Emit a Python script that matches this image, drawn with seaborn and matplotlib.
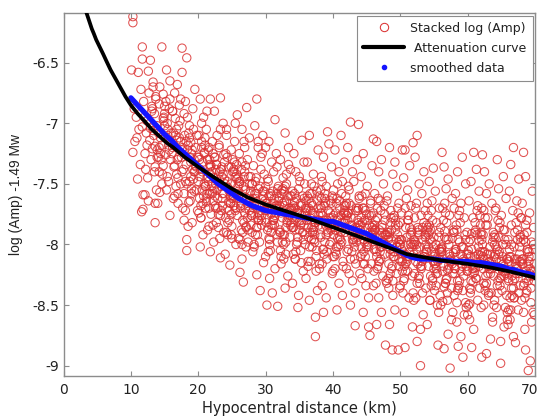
import numpy as np
import pandas as pd
import matplotlib
matplotlib.use("Agg")
import matplotlib.pyplot as plt
from matplotlib.lines import Line2D
from matplotlib.transforms import ScaledTranslation
import seaborn as sns

# ---------------- data ----------------
dist_km = [
    10.3,10.3,11.7,11.7,11.1,10.1,11.7,10.6,10.3,11.8,
    11.8,11.6,10.8,11.2,10.5,11.9,11.4,10.9,11.5,11.0,
    12.9,12.6,13.3,12.1,13.6,12.1,13.6,13.6,12.4,13.1,
    12.3,12.8,13.5,13.9,12.2,13.0,13.7,12.5,13.2,13.8,
    12.7,13.4,12.0,13.9,12.6,13.3,12.9,13.6,12.4,13.1,
    14.6,15.3,14.3,14.8,14.3,14.0,15.8,14.9,15.5,14.2,
    15.1,15.7,14.5,15.9,14.7,15.2,14.4,15.6,15.0,14.1,
    15.4,14.8,15.8,14.6,15.3,14.9,15.7,14.2,15.0,15.5,
    17.6,17.6,16.5,17.2,16.8,17.9,16.2,17.4,16.9,17.0,
    16.3,17.7,16.6,17.3,16.1,17.8,16.7,17.1,16.4,17.5,
    16.9,17.2,16.5,17.9,16.2,17.6,16.8,17.4,16.3,17.0,
    18.3,19.5,18.3,18.3,19.2,18.7,19.8,18.5,19.0,18.9,
    19.4,18.1,19.7,18.6,19.1,18.2,19.6,18.8,19.3,18.4,
    19.9,18.5,19.2,18.9,19.6,18.1,19.0,18.7,19.4,18.3,
    20.3,21.8,20.3,21.8,20.8,21.2,20.5,21.5,20.1,21.9,
    20.6,21.3,20.9,21.7,20.2,21.1,20.4,21.6,20.7,21.4,
    21.0,20.3,21.8,20.6,21.5,20.9,21.2,20.1,21.7,20.5,
    21.3,20.8,21.9,20.2,21.1,20.7,21.6,20.4,21.0,21.4,
    23.3,23.3,22.4,23.7,22.8,23.1,22.2,23.9,22.6,23.5,
    22.9,23.4,22.1,23.6,22.5,23.0,22.7,23.8,22.3,23.2,
    22.4,23.9,22.8,23.5,22.2,23.1,22.6,23.7,22.9,23.3,
    22.1,23.6,22.7,23.0,22.5,23.8,22.3,23.4,22.0,23.2,
    24.7,25.8,24.2,25.4,24.9,25.1,24.5,25.7,24.3,25.9,
    24.6,25.2,24.8,25.5,24.1,25.0,24.4,25.6,24.0,25.3,
    25.9,24.7,25.2,24.3,25.6,24.9,25.1,24.5,25.8,24.2,
    25.4,24.6,25.7,24.8,25.0,24.1,25.3,24.4,25.5,24.9,
    26.2,26.7,27.2,26.5,27.6,26.9,27.3,26.4,27.8,26.1,
    27.0,26.6,27.5,26.3,27.9,26.8,27.4,26.0,27.1,26.5,
    27.7,26.2,27.2,26.9,27.6,26.4,27.0,26.7,27.3,26.1,
    26.6,27.8,26.3,27.5,26.8,27.1,26.0,27.4,26.5,27.9,
    28.7,29.2,28.7,28.4,29.6,28.9,29.3,28.2,29.8,28.5,
    29.0,28.6,29.5,28.3,29.9,28.8,29.4,28.0,29.1,28.1,
    29.7,28.4,29.2,28.9,29.6,28.6,29.0,28.2,29.3,28.8,
    28.5,29.8,28.3,29.5,28.7,29.1,28.0,29.4,28.9,29.9,
    31.4,30.2,31.8,31.0,30.5,31.6,30.9,31.2,30.3,31.9,
    30.7,31.3,30.1,31.5,30.8,31.1,30.4,31.7,30.6,30.0,
    31.4,30.6,31.9,30.2,31.1,30.8,31.6,30.4,31.3,30.9,
    30.5,31.7,30.3,31.2,30.0,31.5,30.7,31.8,30.1,31.0,
    32.9,33.4,32.2,33.7,32.6,33.1,32.4,33.9,32.8,33.5,
    33.2,32.5,33.8,32.1,33.6,32.7,33.0,32.3,33.3,32.9,
    33.6,32.0,33.2,32.8,33.9,32.4,33.5,32.6,33.1,32.2,
    32.5,33.7,32.9,33.0,32.3,33.4,32.7,33.8,32.1,33.3,
    35.4,34.8,34.2,35.7,34.5,35.1,34.9,35.5,34.3,35.9,
    35.0,34.6,35.3,34.1,35.8,34.7,35.2,34.4,35.6,34.0,
    34.9,35.4,34.2,35.7,34.6,35.1,34.8,35.5,34.3,35.9,
    35.2,34.5,35.8,34.1,35.0,34.7,35.6,34.4,35.3,34.0,
    37.4,37.4,36.5,37.8,36.2,37.1,36.8,37.6,36.4,37.0,
    36.7,37.3,36.1,37.9,36.6,37.2,36.9,37.5,36.3,36.0,
    37.7,36.5,37.0,36.8,37.4,36.2,37.1,36.6,37.8,36.4,
    36.9,37.6,36.3,37.2,36.7,37.9,36.1,37.3,36.0,37.5,
    39.2,39.4,38.6,39.8,38.3,39.0,38.8,39.6,38.1,39.3,
    38.5,39.1,38.9,39.7,38.2,39.5,38.7,38.0,39.9,38.4,
    39.0,38.6,39.4,38.3,39.8,38.8,39.2,38.1,39.6,38.5,
    38.9,39.3,38.2,39.7,38.7,39.1,38.4,39.5,38.0,39.9,
    40.6,41.2,40.3,41.7,40.9,41.4,40.1,41.9,40.5,41.0,
    41.6,40.8,41.3,40.2,41.8,40.7,41.1,40.4,41.5,40.0,
    40.9,41.4,40.6,41.7,40.3,41.0,40.8,41.2,40.1,41.9,
    41.3,40.5,41.6,40.2,41.8,40.7,41.1,40.4,41.5,40.0,
    42.6,43.8,43.3,42.2,43.6,42.9,43.1,42.4,43.9,42.7,
    43.4,42.1,43.7,42.5,43.0,42.8,43.5,42.3,43.2,42.0,
    42.9,43.3,42.6,43.8,42.2,43.0,42.4,43.6,42.7,43.1,
    43.5,42.1,43.9,42.8,43.4,42.3,43.7,42.5,43.2,42.0,
    46.0,45.3,45.5,44.5,45.8,44.2,45.1,44.8,45.6,44.4,
    45.0,44.7,45.4,44.1,45.9,44.6,45.2,44.3,45.7,44.0,
    44.9,45.3,44.5,45.8,44.2,45.0,44.8,45.5,44.4,45.1,
    45.6,44.1,45.9,44.7,45.2,44.3,45.7,44.6,45.4,44.0,
    47.8,46.5,47.2,46.8,47.5,46.2,47.0,46.6,47.7,46.3,
    47.3,46.9,47.6,46.1,47.9,46.4,47.1,46.7,47.4,46.0,
    46.8,47.2,46.5,47.8,46.2,47.0,46.6,47.5,46.3,47.7,
    47.1,46.9,47.4,46.1,47.6,46.4,47.3,46.7,47.9,46.0,
    48.8,49.7,48.4,49.2,48.9,49.5,48.1,49.8,48.6,49.0,
    49.3,48.7,49.6,48.2,49.9,48.5,49.1,48.3,49.4,48.0,
    48.9,49.2,48.4,49.7,48.1,49.0,48.6,49.5,48.3,49.8,
    49.1,48.7,49.4,48.2,49.6,48.5,49.3,48.0,49.9,48.8,
    50.3,50.7,51.9,50.7,51.4,50.5,51.1,50.9,51.6,50.2,
    51.2,50.8,51.7,50.1,51.5,50.4,51.0,50.6,51.8,50.0,
    51.3,50.6,51.8,50.2,51.0,50.9,51.4,50.4,51.6,50.8,
    51.1,50.3,51.7,50.5,51.2,50.1,51.5,50.7,51.9,50.0,
    52.5,53.0,52.2,53.5,52.8,53.2,52.4,53.7,52.1,53.9,
    52.6,53.3,52.9,53.6,52.3,53.1,52.7,53.8,52.0,53.4,
    53.0,52.5,53.9,52.2,53.4,52.8,53.6,52.4,53.2,52.7,
    53.5,52.1,53.8,52.9,53.1,52.6,53.7,52.3,53.3,52.0,
    54.9,55.6,54.3,55.2,54.7,55.8,54.1,55.4,54.5,55.0,
    55.3,54.6,55.9,54.2,55.5,54.8,55.1,54.4,55.7,54.0,
    55.2,54.7,55.6,54.3,55.0,54.9,55.4,54.1,55.8,54.5,
    54.8,55.3,54.2,55.9,54.6,55.1,54.4,55.5,54.0,55.7,
    56.2,57.4,56.5,57.1,56.8,57.7,56.3,57.3,56.9,57.9,
    56.6,57.2,56.1,57.5,56.4,57.8,56.7,57.0,56.0,57.6,
    57.1,56.5,57.4,56.2,57.7,56.8,57.3,56.3,57.9,56.9,
    56.4,57.6,56.1,57.0,56.7,57.5,56.0,57.8,56.6,57.2,
    59.2,59.3,58.5,59.7,58.2,59.0,58.8,59.5,58.3,59.9,
    58.6,59.1,58.9,59.6,58.1,59.4,58.7,58.0,59.8,58.4,
    59.0,58.6,59.4,58.3,59.8,58.8,59.2,58.1,59.6,58.5,
    58.9,59.3,58.2,59.7,58.7,59.1,58.4,59.5,58.0,59.9,
    60.9,60.6,62.1,61.3,60.5,61.7,60.2,61.4,60.8,61.9,
    61.1,60.4,61.6,60.1,61.8,60.7,61.2,60.3,61.5,60.0,
    60.9,61.3,60.6,61.7,60.2,61.0,60.8,61.4,60.5,61.9,
    61.1,60.4,61.6,60.1,61.8,60.7,61.2,60.3,61.5,60.0,
    62.2,62.5,63.2,62.8,63.6,62.4,63.0,62.7,63.8,62.1,
    63.3,62.9,63.5,62.3,63.9,62.6,63.1,62.0,63.7,63.4,
    62.8,63.2,62.5,63.6,62.2,63.0,62.7,63.8,62.4,63.3,
    62.9,63.5,62.3,63.9,62.6,63.1,62.0,63.7,62.1,63.4,
    64.4,64.9,65.3,64.6,65.7,64.2,65.0,64.8,65.5,64.1,
    65.2,64.7,65.8,64.3,65.6,64.5,65.1,64.0,65.9,65.4,
    64.9,65.3,64.6,65.7,64.2,65.0,64.8,65.5,64.4,65.2,
    64.7,65.8,64.3,65.6,64.5,65.1,64.0,65.9,64.1,65.4,
    66.8,67.1,66.4,67.6,66.2,67.3,66.7,67.9,66.5,67.0,
    67.4,66.9,67.7,66.1,67.2,66.6,67.8,66.3,67.5,66.0,
    66.8,67.3,66.4,67.6,66.2,67.1,66.7,67.9,66.5,67.0,
    67.4,66.9,67.7,66.1,67.2,66.6,67.8,66.3,67.5,66.0,
    68.3,68.6,69.0,69.3,68.6,69.6,68.1,69.2,68.8,69.8,
    68.4,69.5,68.9,69.1,68.2,69.7,68.7,69.4,68.0,69.9,
    68.5,69.3,68.2,69.6,68.9,69.0,68.4,69.8,68.7,69.1,
    68.8,69.4,68.1,69.7,68.6,69.2,68.3,69.5,68.0,69.9,
]

log_amp = [
    -6.12,-6.17,-6.37,-6.47,-6.58,-6.56,-7.03,-7.15,-7.24,-7.59,
    -7.71,-7.73,-6.95,-7.05,-6.88,-6.82,-7.34,-7.12,-6.72,-7.46,
    -6.48,-6.57,-6.66,-7.25,-7.19,-7.59,-7.82,-7.66,-6.98,-6.86,
    -7.08,-7.14,-6.92,-7.02,-7.38,-7.30,-6.80,-7.45,-7.21,-7.55,
    -6.75,-7.10,-6.95,-7.28,-7.64,-6.70,-7.04,-7.36,-7.18,-6.90,
    -6.37,-6.56,-6.70,-6.76,-7.57,-7.66,-7.76,-6.95,-7.05,-7.20,
    -7.12,-6.88,-7.30,-7.15,-7.42,-6.82,-7.25,-7.48,-6.92,-7.08,
    -7.00,-7.35,-6.65,-7.18,-7.55,-6.98,-7.22,-7.40,-6.86,-7.10,
    -6.38,-6.58,-6.75,-6.85,-7.05,-6.92,-7.20,-7.15,-7.30,-7.45,
    -7.62,-7.70,-7.10,-6.98,-7.25,-7.38,-7.52,-7.02,-7.18,-7.28,
    -6.68,-7.12,-7.35,-7.80,-6.90,-7.22,-7.42,-6.80,-7.08,-7.58,
    -6.46,-6.72,-7.96,-8.05,-6.88,-7.02,-7.10,-7.18,-7.25,-7.32,
    -7.40,-7.48,-7.55,-7.65,-7.22,-7.15,-7.35,-7.28,-7.05,-6.95,
    -7.72,-7.85,-7.38,-7.44,-7.20,-6.82,-7.58,-7.12,-7.30,-7.50,
    -6.80,-6.80,-8.02,-8.06,-6.95,-7.05,-7.15,-7.22,-7.28,-7.35,
    -7.40,-7.45,-7.50,-7.58,-7.62,-7.70,-7.78,-7.85,-7.92,-7.30,
    -7.18,-7.38,-7.42,-7.55,-7.48,-7.25,-7.65,-7.10,-7.34,-7.00,
    -6.90,-7.60,-7.75,-7.44,-7.52,-7.32,-7.20,-7.68,-7.12,-7.88,
    -6.79,-8.11,-6.90,-7.00,-7.10,-7.18,-7.25,-7.32,-7.38,-7.44,
    -7.48,-7.52,-7.58,-7.62,-7.68,-7.75,-7.82,-7.90,-7.98,-7.40,
    -7.28,-7.46,-7.55,-7.36,-7.64,-7.20,-7.50,-7.42,-7.70,-7.05,
    -7.15,-7.58,-7.34,-7.86,-7.60,-7.26,-7.45,-7.72,-7.52,-7.95,
    -8.17,-6.93,-7.05,-7.15,-7.22,-7.30,-7.36,-7.42,-7.48,-7.52,
    -7.56,-7.60,-7.66,-7.72,-7.78,-7.85,-7.92,-8.00,-8.08,-7.38,
    -7.45,-7.55,-7.62,-7.28,-7.70,-7.50,-7.40,-7.65,-7.58,-7.10,
    -7.32,-7.80,-7.46,-7.60,-7.95,-7.25,-7.68,-7.53,-7.00,-7.75,
    -8.23,-8.31,-6.87,-7.05,-7.12,-7.20,-7.30,-7.38,-7.44,-7.50,
    -7.55,-7.60,-7.65,-7.70,-7.76,-7.82,-7.88,-7.95,-8.02,-8.12,
    -7.58,-7.48,-7.62,-7.40,-7.72,-7.66,-7.35,-7.52,-7.78,-7.25,
    -7.90,-7.56,-7.68,-7.44,-7.15,-7.85,-7.62,-7.98,-7.32,-7.74,
    -6.80,-8.38,-8.25,-7.02,-7.10,-7.20,-7.28,-7.35,-7.42,-7.48,
    -7.54,-7.58,-7.63,-7.68,-7.72,-7.78,-7.84,-7.90,-7.98,-8.06,
    -8.15,-7.66,-7.52,-7.74,-7.60,-7.45,-7.80,-7.70,-7.38,-7.92,
    -7.62,-7.56,-8.00,-7.25,-7.86,-7.68,-7.50,-7.76,-7.15,-7.64,
    -6.97,-8.50,-8.51,-8.40,-7.15,-7.25,-7.32,-7.40,-7.46,-7.52,
    -7.58,-7.62,-7.66,-7.70,-7.75,-7.80,-7.86,-7.92,-8.00,-8.10,
    -8.20,-8.28,-7.64,-7.72,-7.56,-7.84,-7.68,-7.48,-7.78,-7.60,
    -7.95,-7.36,-7.88,-7.66,-7.20,-7.74,-8.05,-7.54,-7.82,-7.70,
    -7.08,-7.20,-7.30,-7.38,-7.45,-7.50,-7.55,-7.60,-7.65,-7.70,
    -7.74,-7.78,-7.82,-7.88,-7.94,-8.00,-8.08,-8.16,-8.26,-8.36,
    -7.72,-7.62,-7.80,-7.68,-7.86,-7.58,-7.76,-7.92,-7.42,-8.05,
    -7.66,-7.84,-7.52,-7.98,-7.74,-7.34,-8.12,-7.70,-7.90,-7.60,
    -7.14,-8.52,-7.25,-7.32,-7.40,-7.48,-7.54,-7.60,-7.65,-7.70,
    -7.74,-7.78,-7.82,-7.86,-7.92,-7.98,-8.05,-8.12,-8.22,-8.32,
    -8.42,-7.76,-7.68,-7.84,-7.62,-7.80,-7.72,-7.90,-7.58,-8.00,
    -7.66,-7.88,-7.50,-8.08,-7.44,-7.74,-7.96,-7.70,-8.15,-7.78,
    -8.60,-8.76,-7.10,-7.22,-7.32,-7.42,-7.50,-7.56,-7.62,-7.68,
    -7.72,-7.76,-7.80,-7.84,-7.90,-7.96,-8.02,-8.10,-8.18,-8.28,
    -8.38,-8.46,-7.74,-7.66,-7.82,-7.60,-7.88,-7.78,-7.70,-7.94,
    -7.58,-8.05,-7.86,-7.52,-8.14,-7.80,-7.70,-7.98,-7.64,-8.22,
    -7.07,-7.17,-7.28,-7.36,-7.44,-7.52,-7.58,-7.64,-7.68,-7.72,
    -7.76,-7.80,-7.84,-7.88,-7.94,-8.00,-8.08,-8.16,-8.24,-8.34,
    -8.44,-8.56,-7.78,-7.70,-7.86,-7.62,-7.82,-7.92,-7.74,-8.04,
    -7.66,-7.90,-7.55,-7.98,-7.80,-8.12,-7.48,-7.84,-8.20,-7.60,
    -8.54,-7.10,-7.22,-7.32,-7.40,-7.48,-7.55,-7.60,-7.66,-7.70,
    -7.74,-7.78,-7.82,-7.86,-7.90,-7.95,-8.00,-8.06,-8.14,-8.22,
    -8.32,-8.42,-7.80,-7.72,-7.88,-7.64,-7.84,-7.76,-7.92,-7.68,
    -7.58,-8.02,-7.82,-8.10,-7.74,-7.50,-7.96,-7.88,-8.18,-7.62,
    -6.99,-7.01,-8.67,-7.20,-7.30,-7.40,-7.48,-7.55,-7.62,-7.68,
    -7.72,-7.76,-7.80,-7.84,-7.88,-7.92,-7.98,-8.04,-8.12,-8.20,
    -8.30,-8.40,-8.50,-7.82,-7.74,-7.90,-7.66,-7.86,-7.78,-7.96,
    -7.70,-8.06,-7.60,-7.84,-8.16,-7.52,-7.94,-7.88,-8.02,-7.76,
    -7.13,-8.68,-8.75,-7.25,-7.35,-7.44,-7.52,-7.58,-7.64,-7.70,
    -7.75,-7.80,-7.84,-7.88,-7.92,-7.96,-8.02,-8.08,-8.16,-8.24,
    -8.34,-8.44,-8.56,-7.86,-7.78,-7.94,-7.72,-7.90,-7.82,-8.00,
    -7.66,-8.10,-7.84,-7.98,-8.20,-7.60,-7.92,-8.06,-7.76,-7.88,
    -8.83,-7.15,-7.30,-7.40,-7.50,-7.58,-7.64,-7.70,-7.75,-7.80,
    -7.84,-7.88,-7.92,-7.96,-8.00,-8.06,-8.12,-8.18,-8.26,-8.34,
    -8.44,-8.56,-8.66,-7.92,-7.84,-8.02,-7.78,-7.98,-7.88,-8.08,
    -7.72,-8.14,-7.94,-8.22,-7.68,-8.04,-7.86,-7.62,-8.30,-7.90,
    -8.87,-8.87,-7.20,-7.32,-7.42,-7.52,-7.60,-7.66,-7.72,-7.78,
    -7.84,-7.88,-7.92,-7.96,-8.00,-8.04,-8.10,-8.16,-8.24,-8.32,
    -8.42,-8.54,-8.66,-7.98,-7.90,-8.06,-7.82,-8.02,-7.94,-8.12,
    -7.76,-8.20,-7.96,-8.28,-7.70,-8.08,-7.88,-7.64,-8.36,-8.00,
    -7.22,-7.22,-7.16,-8.85,-7.35,-7.45,-7.55,-7.62,-7.68,-7.74,
    -7.80,-7.86,-7.90,-7.96,-8.00,-8.06,-8.12,-8.18,-8.26,-8.34,
    -8.44,-8.56,-8.68,-8.04,-7.94,-8.10,-7.86,-8.08,-7.98,-8.16,
    -7.80,-8.22,-8.02,-8.30,-7.76,-8.14,-7.92,-7.70,-8.40,-8.00,
    -7.10,-9.00,-7.28,-7.40,-7.50,-7.58,-7.66,-7.72,-7.78,-7.84,
    -7.90,-7.96,-8.02,-8.08,-8.14,-8.20,-8.28,-8.36,-8.46,-8.58,
    -8.70,-8.80,-8.06,-7.98,-8.12,-7.92,-8.10,-8.04,-8.18,-7.88,
    -7.82,-8.24,-8.00,-8.32,-7.76,-8.16,-7.94,-7.70,-8.40,-8.08,
    -7.37,-8.83,-7.48,-7.56,-7.64,-7.70,-7.76,-7.82,-7.88,-7.94,
    -8.00,-8.06,-8.12,-8.18,-8.24,-8.30,-8.38,-8.46,-8.56,-8.66,
    -8.08,-7.98,-8.14,-7.90,-8.10,-8.02,-8.20,-7.86,-8.04,-8.26,
    -7.80,-8.34,-7.92,-8.42,-7.72,-8.16,-7.96,-8.50,-7.66,-8.12,
    -7.24,-9.02,-7.36,-7.46,-7.54,-7.62,-7.70,-7.76,-7.82,-7.88,
    -7.94,-8.00,-8.06,-8.12,-8.18,-8.24,-8.32,-8.40,-8.50,-8.62,
    -8.74,-8.86,-8.10,-8.02,-8.16,-7.96,-8.08,-8.22,-7.90,-8.28,
    -7.80,-8.36,-8.04,-8.46,-7.74,-8.14,-7.86,-8.56,-7.66,-8.20,
    -7.28,-8.93,-7.40,-7.50,-7.58,-7.66,-7.72,-7.78,-7.84,-7.90,
    -7.96,-8.02,-8.08,-8.14,-8.20,-8.26,-8.34,-8.42,-8.52,-8.64,
    -8.76,-8.84,-8.12,-8.04,-8.18,-7.98,-8.10,-8.24,-7.92,-8.30,
    -7.82,-8.38,-8.06,-8.48,-7.76,-8.16,-7.88,-8.58,-7.70,-8.22,
    -7.24,-8.85,-8.93,-7.38,-7.48,-7.56,-7.64,-7.72,-7.78,-7.84,
    -7.90,-7.96,-8.02,-8.08,-8.14,-8.20,-8.28,-8.36,-8.46,-8.58,
    -8.70,-8.12,-8.04,-8.18,-7.98,-8.10,-8.24,-7.92,-8.30,-8.06,
    -7.82,-8.40,-8.08,-8.50,-7.76,-8.16,-7.88,-8.62,-7.68,-8.22,
    -7.26,-7.40,-7.50,-7.58,-7.66,-7.72,-7.78,-7.84,-7.90,-7.96,
    -8.02,-8.08,-8.14,-8.20,-8.26,-8.34,-8.42,-8.52,-8.64,-8.78,
    -8.90,-8.14,-8.06,-8.20,-8.00,-8.12,-8.26,-7.94,-8.32,-8.08,
    -7.84,-8.40,-8.10,-8.50,-7.78,-8.18,-7.90,-8.60,-7.70,-8.24,
    -7.30,-8.98,-7.44,-7.54,-7.62,-7.70,-7.76,-7.82,-7.88,-7.94,
    -8.00,-8.06,-8.12,-8.18,-8.24,-8.30,-8.38,-8.46,-8.56,-8.68,
    -8.80,-8.16,-8.08,-8.22,-8.02,-8.14,-8.28,-7.96,-8.34,-8.10,
    -7.86,-8.42,-8.12,-8.52,-7.80,-8.20,-7.92,-8.62,-7.72,-8.26,
    -7.20,-8.81,-7.34,-7.46,-7.56,-7.64,-7.72,-7.78,-7.84,-7.90,
    -7.96,-8.02,-8.08,-8.14,-8.20,-8.26,-8.34,-8.44,-8.54,-8.66,
    -8.76,-8.18,-8.10,-8.24,-8.04,-8.16,-8.30,-7.98,-8.36,-8.12,
    -7.88,-8.44,-8.14,-8.54,-7.82,-8.22,-7.94,-8.62,-7.74,-8.28,
    -7.24,-7.44,-9.04,-8.96,-8.87,-7.56,-7.66,-7.74,-7.80,-7.86,
    -7.92,-7.98,-8.04,-8.10,-8.16,-8.22,-8.28,-8.36,-8.46,-8.58,
    -8.70,-8.20,-8.12,-8.26,-8.06,-8.18,-8.32,-8.00,-8.40,-8.14,
    -7.90,-8.48,-8.16,-8.56,-7.84,-8.24,-7.96,-8.64,-7.78,-8.30,
]

# extra points in the dense core of the cloud
core_dist_km = [
    13.2,14.1,13.7,14.4,13.5,14.8,13.9,14.6,13.3,14.2,
    15.0,15.9,15.4,16.2,15.6,16.5,15.2,16.0,15.8,16.4,
    16.8,17.6,17.1,17.9,16.6,17.4,18.2,17.0,18.0,17.7,
    18.4,19.3,18.8,19.7,18.6,19.0,19.9,18.1,19.5,18.9,
    20.2,21.0,20.7,21.5,20.4,21.8,20.9,21.3,20.0,21.6,
    22.0,22.9,22.4,23.3,22.7,23.6,22.2,23.1,23.8,22.5,
    24.0,24.8,24.4,25.2,24.6,25.5,24.2,25.0,25.8,24.9,
    26.0,26.9,26.4,27.3,26.6,27.6,26.2,27.0,27.8,26.8,
    28.1,28.9,28.5,29.3,28.7,29.6,28.3,29.1,29.9,28.0,
    30.2,31.0,30.6,31.4,30.8,31.7,30.4,31.2,31.9,30.0,
    32.1,33.0,32.5,33.4,32.8,33.7,32.3,33.2,33.9,32.6,
    34.2,35.0,34.6,35.4,34.8,35.7,34.4,35.2,35.9,34.0,
    36.1,37.0,36.5,37.4,36.8,37.7,36.3,37.2,37.9,36.6,
    38.2,39.0,38.6,39.4,38.8,39.7,38.4,39.2,39.9,38.0,
    40.1,41.0,40.5,41.4,40.8,41.7,40.3,41.2,41.9,40.6,
    42.2,43.0,42.6,43.4,42.8,43.7,42.4,43.2,43.9,42.0,
    44.1,45.0,44.5,45.4,44.8,45.7,44.3,45.2,45.9,44.6,
    46.2,47.0,46.6,47.4,46.8,47.7,46.4,47.2,47.9,46.0,
    48.1,49.0,48.5,49.4,48.8,49.7,48.3,49.2,49.9,48.6,
    50.2,51.0,50.6,51.4,50.8,51.7,50.4,51.2,51.9,50.0,
    52.1,53.0,52.5,53.4,52.8,53.7,52.3,53.2,53.9,52.6,
    54.2,55.0,54.6,55.4,54.8,55.7,54.4,55.2,55.9,54.0,
    56.1,57.0,56.5,57.4,56.8,57.7,56.3,57.2,57.9,56.6,
    58.2,59.0,58.6,59.4,58.8,59.7,58.4,59.2,59.9,58.0,
    60.1,61.0,60.5,61.4,60.8,61.7,60.3,61.2,61.9,60.6,
    62.2,63.0,62.6,63.4,62.8,63.7,62.4,63.2,63.9,62.0,
    64.1,65.0,64.5,65.4,64.8,65.7,64.3,65.2,65.9,64.6,
    66.2,67.0,66.6,67.4,66.8,67.7,66.4,67.2,67.9,66.0,
    68.1,69.0,68.5,69.4,68.8,69.7,68.3,69.2,69.9,68.6,
    18.7,20.5,19.4,21.2,22.6,20.1,23.4,21.7,19.1,22.1,
    24.3,26.1,25.3,27.1,28.4,24.9,29.4,26.5,25.7,27.9,
    30.5,32.2,31.3,33.1,34.5,30.9,35.3,32.7,31.8,34.1,
    36.4,38.3,37.3,39.1,40.4,36.9,41.3,38.7,37.8,40.0,
    42.3,44.2,43.3,45.1,46.5,42.9,47.3,44.7,43.8,46.1,
    48.4,50.3,49.3,51.1,52.4,48.9,53.3,50.7,49.8,52.0,
    54.3,56.2,55.3,57.1,58.5,54.9,59.3,56.7,55.8,58.1,
    60.4,62.3,61.3,63.1,64.4,60.9,65.3,62.7,61.8,64.0,
    66.5,68.3,67.3,69.1,66.9,67.8,68.7,66.1,69.5,67.6,
]

core_log_amp = [
    -6.88,-7.28,-6.78,-7.12,-7.40,-6.96,-7.22,-7.50,-7.06,-6.84,
    -7.02,-7.30,-7.44,-6.90,-7.18,-7.60,-7.26,-7.08,-6.80,-7.36,
    -7.14,-7.40,-7.28,-7.58,-6.96,-7.50,-7.34,-7.66,-7.10,-7.20,
    -7.22,-7.46,-7.64,-7.36,-7.08,-7.54,-7.28,-7.72,-7.40,-7.16,
    -7.30,-7.52,-7.66,-7.44,-7.78,-7.36,-7.24,-7.58,-7.48,-7.70,
    -7.40,-7.62,-7.54,-7.76,-7.34,-7.68,-7.84,-7.46,-7.58,-7.28,
    -7.50,-7.66,-7.82,-7.58,-7.72,-7.44,-7.90,-7.62,-7.76,-7.36,
    -7.56,-7.74,-7.88,-7.66,-7.80,-7.50,-7.96,-7.70,-7.84,-7.44,
    -7.62,-7.80,-7.92,-7.72,-7.86,-7.56,-8.02,-7.76,-7.68,-7.50,
    -7.66,-7.84,-7.96,-7.76,-7.90,-7.58,-8.06,-7.80,-7.70,-7.52,
    -7.68,-7.86,-7.98,-7.78,-7.92,-7.60,-8.10,-7.82,-7.72,-7.54,
    -7.70,-7.88,-8.00,-7.80,-7.94,-7.62,-8.12,-7.84,-7.74,-7.56,
    -7.72,-7.90,-8.02,-7.82,-7.96,-7.64,-8.14,-7.86,-7.76,-7.58,
    -7.74,-7.92,-8.04,-7.84,-7.98,-7.66,-8.16,-7.88,-7.78,-7.60,
    -7.76,-7.94,-8.08,-7.86,-8.02,-7.68,-8.20,-7.90,-7.80,-7.62,
    -7.80,-7.98,-8.12,-7.90,-8.06,-7.72,-8.24,-7.94,-7.84,-7.66,
    -7.84,-8.02,-8.16,-7.94,-8.10,-7.76,-8.28,-7.98,-7.88,-7.70,
    -7.88,-8.06,-8.20,-7.98,-8.14,-7.80,-8.32,-8.02,-7.92,-7.74,
    -7.92,-8.10,-8.24,-8.02,-8.18,-7.84,-8.36,-8.06,-7.96,-7.78,
    -7.96,-8.14,-8.28,-8.06,-8.22,-7.88,-8.40,-8.10,-8.00,-7.82,
    -8.00,-8.18,-8.32,-8.10,-8.26,-7.92,-8.44,-8.14,-8.04,-7.86,
    -8.02,-8.20,-8.34,-8.12,-8.28,-7.94,-8.46,-8.16,-8.06,-7.88,
    -8.03,-8.21,-8.35,-8.13,-8.29,-7.95,-8.47,-8.17,-8.07,-7.89,
    -8.04,-8.22,-8.36,-8.14,-8.30,-7.96,-8.48,-8.18,-8.08,-7.90,
    -8.05,-8.23,-8.37,-8.15,-8.31,-7.97,-8.49,-8.19,-8.09,-7.91,
    -8.06,-8.24,-8.38,-8.16,-8.32,-7.98,-8.50,-8.20,-8.10,-7.92,
    -8.08,-8.26,-8.40,-8.18,-8.34,-8.00,-8.52,-8.22,-8.12,-7.94,
    -8.10,-8.28,-8.42,-8.20,-8.36,-8.02,-8.54,-8.24,-8.14,-7.96,
    -8.12,-8.30,-8.44,-8.22,-8.38,-8.04,-8.56,-8.26,-8.16,-7.98,
    -7.48,-7.20,-7.56,-7.62,-7.70,-7.74,-7.38,-7.30,-7.82,-7.56,
    -7.70,-7.48,-7.40,-7.86,-7.58,-7.92,-7.80,-8.00,-7.34,-7.76,
    -7.60,-7.90,-7.84,-7.64,-8.06,-7.74,-7.68,-7.56,-7.98,-7.86,
    -7.70,-7.62,-7.92,-8.06,-7.74,-7.86,-7.98,-7.68,-7.80,-8.10,
    -7.74,-8.02,-7.86,-7.80,-8.10,-7.96,-7.90,-8.16,-7.70,-8.04,
    -7.90,-8.14,-7.80,-8.22,-8.00,-8.30,-7.86,-8.08,-8.18,-7.96,
    -7.84,-8.06,-8.24,-7.96,-8.38,-8.14,-8.02,-8.32,-7.90,-8.20,
    -8.10,-7.92,-8.28,-8.40,-8.04,-8.20,-7.88,-8.16,-8.36,-8.00,
    -8.00,-8.34,-8.12,-8.06,-8.44,-7.92,-8.22,-8.30,-8.10,-8.40,
]

# attenuation curve, read at points along the black line
curve_km = [3.3, 3.6, 3.9, 4.2, 4.5, 4.85, 5.2, 5.55, 5.9, 6.4, 7.0, 7.7,
            8.4, 9.2, 10.0, 11.0, 12.0, 13.1, 14.3, 15.3, 16.3, 18.0, 20.0,
            22.2, 25.0, 27.3, 30.0, 32.2, 35.0, 37.1, 41.1, 44.1, 47.0,
            51.0, 56.0, 60.0, 63.4, 66.0, 69.8, 70.0]
curve_val = [-6.07, -6.12, -6.17, -6.22, -6.26, -6.31, -6.35, -6.39, -6.43,
             -6.49, -6.56, -6.63, -6.70, -6.78, -6.85, -6.92, -6.98, -7.05,
             -7.11, -7.16, -7.20, -7.28, -7.36, -7.44, -7.54, -7.61, -7.67,
             -7.71, -7.76, -7.80, -7.88, -7.94, -8.00, -8.08, -8.13, -8.16,
             -8.19, -8.22, -8.27, -8.28]

# smoothed data (blue)
smooth_km = list(range(10, 71))
smooth_val = [-6.79, -6.85, -6.91, -6.97, -7.03, -7.09, -7.14, -7.20, -7.25, -7.30,
              -7.35, -7.40, -7.45, -7.50, -7.54, -7.58, -7.62, -7.65, -7.68, -7.70,
              -7.72, -7.73, -7.74, -7.75, -7.76, -7.77, -7.78, -7.79, -7.80, -7.81,
              -7.81, -7.83, -7.85, -7.87, -7.89, -7.91, -7.94, -7.97, -8.00, -8.03,
              -8.06, -8.09, -8.11, -8.12, -8.12, -8.12, -8.13, -8.13, -8.14, -8.14,
              -8.14, -8.15, -8.15, -8.16, -8.17, -8.18, -8.20, -8.21, -8.23, -8.24,
              -8.26]

x_ticks = [0, 10, 20, 30, 40, 50, 60, 70]
y_ticks = [-9, -8.5, -8, -7.5, -7, -6.5]
y_tick_labels = ["-9", "-8.5", "-8", "-7.5", "-7", "-6.5"]

# ---------------- plotting ----------------
sns.set_theme(style="white")
plt.rcParams["font.family"] = ["DejaVu Sans"]

scatter_df = pd.DataFrame({"dist": dist_km + core_dist_km,
                           "amp": log_amp + core_log_amp})
curve_df = pd.DataFrame({"dist": curve_km, "amp": curve_val})
smooth_df = pd.DataFrame({"dist": smooth_km, "amp": smooth_val})

fig = plt.figure(figsize=(5.4, 4.17), dpi=100)
ax = fig.add_axes([63.5 / 540, 41 / 417, 471.5 / 540, 363 / 417])

red = (0.86, 0.2, 0.2)
sns.scatterplot(data=scatter_df, x="dist", y="amp", ax=ax, s=36,
                facecolors="none", edgecolor=red, linewidth=0.75,
                alpha=0.85, marker="o", zorder=2)
sns.lineplot(data=smooth_df, x="dist", y="amp", ax=ax, color="#1414ff",
             linewidth=3.8, zorder=3, sort=False)
sns.lineplot(data=curve_df, x="dist", y="amp", ax=ax, color="black",
             linewidth=2.7, zorder=4, sort=False)

ax.set_xlim(0, 70)
ax.set_ylim(-9.085, -6.09)
ax.set_xticks(x_ticks)
ax.set_yticks(y_ticks)
ax.set_yticklabels(y_tick_labels)

gray = "#8c8c8c"
for sp in ax.spines.values():
    sp.set_color(gray)
    sp.set_linewidth(1.0)
    sp.set_visible(True)
ax.tick_params(direction="in", length=3.5, width=0.8, color=gray,
               top=True, right=True, bottom=True, left=True,
               labelsize=10, labelcolor="#222222")
ax.tick_params(axis="x", pad=5)
ax.tick_params(axis="y", pad=3)

# keep the last x tick label inside the image
fig.canvas.draw()
last = ax.get_xticklabels()[-1]
last.set_transform(last.get_transform() + ScaledTranslation(-5 / 100, 0, fig.dpi_scale_trans))

ax.set_xlabel("Hypocentral distance (km)", fontsize=10.5, color="#222222", labelpad=3)
ax.set_ylabel("log (Amp) -1.49 Mw", fontsize=10, color="#222222", labelpad=7,
              family=["Liberation Sans", "DejaVu Sans"])

handles = [
    Line2D([], [], linestyle="none", marker="o", markersize=6,
           markerfacecolor="none", markeredgecolor=red, markeredgewidth=0.75),
    Line2D([], [], color="black", linewidth=3),
    Line2D([], [], linestyle="none", marker="o", markersize=3,
           markerfacecolor="#1414ff", markeredgecolor="#1414ff"),
]
labels = ["Stacked log (Amp)", " Attenuation curve", "smoothed data"]
leg = ax.legend(handles, labels, loc="upper right", fontsize=9,
                frameon=True, fancybox=False, framealpha=1, edgecolor=gray,
                handlelength=3.3, labelspacing=0.55, borderaxespad=0.2,
                handletextpad=0.45, borderpad=0.5)
leg.get_frame().set_linewidth(0.8)
for t in leg.get_texts():
    t.set_color("#222222")

fig.savefig("out.png", dpi=100)
